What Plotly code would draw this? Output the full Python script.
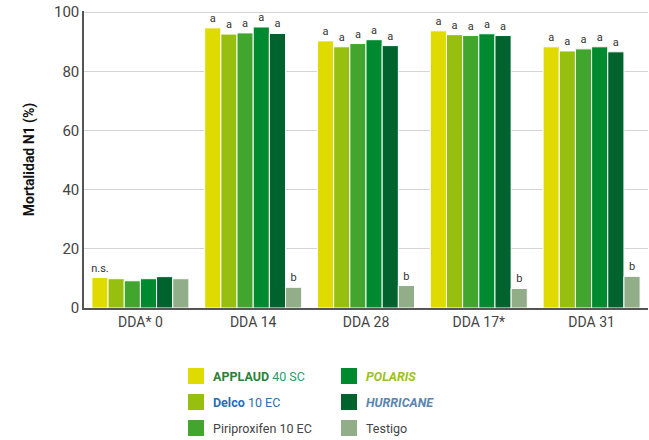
import plotly.graph_objects as go

categories = ["DDA* 0", "DDA 14", "DDA 28", "DDA 17*", "DDA 31"]

applaud = [10.3, 94.7, 90.3, 93.7, 88.3]
delco = [9.9, 92.6, 88.3, 92.4, 86.9]
piriproxifen = [9.2, 93.0, 89.4, 92.1, 87.6]
polaris = [9.9, 95.0, 90.7, 92.7, 88.3]
hurricane = [10.6, 92.8, 88.7, 92.1, 86.6]
testigo = [9.9, 7.0, 7.6, 6.6, 10.7]

labels_applaud = ["n.s.", "a", "a", "a", "a"]
labels_treat = ["", "a", "a", "a", "a"]
labels_testigo = ["", "b", "b", "b", "b"]

series = [
    ("APPLAUD 40 SC", applaud, "#dfdb00", labels_applaud),
    ("Delco 10 EC", delco, "#97bf10", labels_treat),
    ("Piriproxifen 10 EC", piriproxifen, "#42a62e", labels_treat),
    ("Polaris", polaris, "#008a30", labels_treat),
    ("Hurricane", hurricane, "#00622d", labels_treat),
    ("Testigo", testigo, "#91ae88", labels_testigo),
]

font = "Roboto, Liberation Sans, Arial"

fig = go.Figure()
for name, vals, color, lab in series:
    fig.add_trace(go.Bar(
        x=categories, y=vals, name=name,
        marker=dict(color=color, line=dict(color="white", width=1)),
        text=lab, textposition="outside", constraintext="none", cliponaxis=False,
        textfont=dict(size=11, color="#333333", family=font),
        showlegend=False,
    ))

fig.update_layout(
    width=649, height=440,
    margin=dict(l=84, r=1, t=11, b=132),
    barmode="group", bargap=0.14, bargroupgap=0,
    plot_bgcolor="white", paper_bgcolor="white",
    font=dict(family=font, color="#444444"),
    xaxis=dict(showline=True, linecolor="#555555", linewidth=1.5, ticks="",
               tickfont=dict(size=14, color="#444444")),
    yaxis=dict(range=[0, 100.4], tickvals=[0, 20, 40, 60, 80, 100], showline=True,
               linecolor="#555555", linewidth=1.5, ticklabeloverflow="allow",
               gridcolor="#d4d4d4", gridwidth=1, ticks="", zeroline=False, automargin=False,
               tickfont=dict(size=15, color="#444444"),
               title=dict(text="<b>Mortalidad N1 (%)</b>", font=dict(size=14, color="#111111"), standoff=16)),
)

# custom legend (positions in pixels, plot area 84..648 x 12..308)
legend_items = [
    (0, 0, "#dfdb00", "<b><span style='color:#2f7f3a'>APPLAUD</span></b> <span style='color:#2f9a6a'>40 SC</span>"),
    (0, 1, "#97bf10", "<b><span style='color:#2a6fb3'>Delco</span></b> <span style='color:#2a6fb3'>10 EC</span>"),
    (0, 2, "#42a62e", "Piriproxifen 10 EC"),
    (1, 0, "#008a30", "<b><i><span style='color:#9cc21a'>POLARIS</span></i></b>"),
    (1, 1, "#00622d", "<b><i><span style='color:#5a86b0'>HURRICANE</span></i></b>"),
    (1, 2, "#91ae88", "Testigo"),
]
col_x = [188, 341]
row_y = [376, 402, 428]
for col, row, color, text in legend_items:
    x0 = col_x[col]
    yc = row_y[row]
    fig.add_shape(type="rect", xref="paper", yref="paper",
                  x0=(x0 - 84) / 564, x1=(x0 + 16 - 84) / 564,
                  y0=(308 - (yc + 8)) / 297, y1=(308 - (yc - 8)) / 297,
                  fillcolor=color, line=dict(width=0))
    fig.add_annotation(xref="paper", yref="paper",
                       x=(x0 + 23 - 84) / 564, y=(308 - yc) / 297,
                       xanchor="left", yanchor="middle", showarrow=False,
                       text=text, font=dict(size=12.5, color="#444444", family=font))

# drop the default 8px page margin so the figure fills the window
fig.write_html("out.html", config={"displayModeBar": False},
               post_script="document.body.style.margin='0';")
